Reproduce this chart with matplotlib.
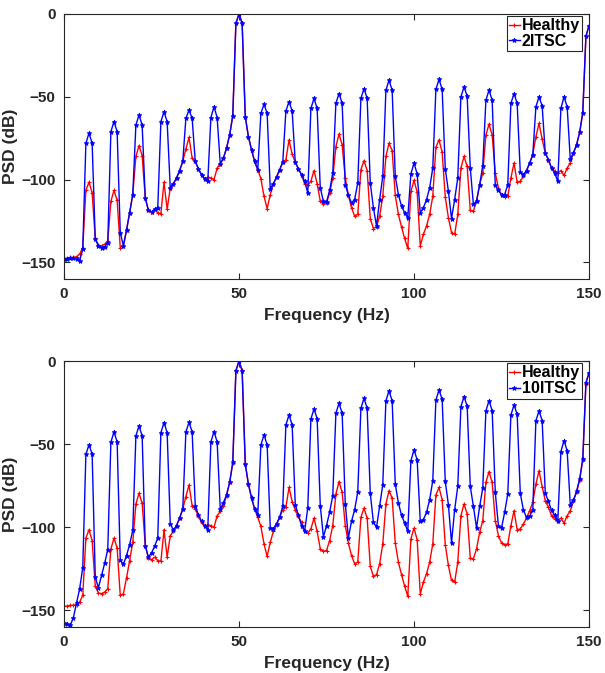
import numpy as np
import matplotlib
matplotlib.use("Agg")
import matplotlib.pyplot as plt

# frequency bins (50/56 Hz spacing, 0..150 Hz)
n_bins = 169
df = 50 / 56

healthy = [
    -147.5, -147.5, -147, -147, -146.5, -145, -141, -106.5, -101.5, -108,
    -135.5, -139.5, -140, -139, -137, -113, -106.5, -112.5, -141, -140,
    -130.5, -120, -109, -86, -79.5, -85.5, -111, -118.5, -119.5, -118,
    -120, -120.5, -101.5, -118, -105, -102.5, -99, -94.5, -89, -81.5,
    -74.5, -87, -89, -93.5, -97, -99.5, -98.5, -99, -100, -93,
    -90.5, -87, -81, -73, -61.5, -5.6, 0, -5.6, -62, -74,
    -82, -89, -94, -99.5, -110, -117.5, -109, -102.5, -98.5, -94,
    -89.5, -88, -76, -84.5, -89.5, -93.5, -97, -102.5, -103.5, -101,
    -94.5, -102.5, -113, -114.5, -114, -108, -99, -80, -72.5, -79,
    -99, -109.5, -117, -122, -121, -94, -88.5, -94.5, -123.5, -129.5,
    -128.5, -122, -110, -86, -78, -82.5, -109.5, -121, -128.5, -135.5,
    -141.5, -107, -100.5, -107.5, -140, -133, -128, -121, -110, -80.5,
    -76, -83.5, -110.5, -123, -132, -133, -121, -93, -86, -92,
    -118.5, -119, -113, -103, -96, -73, -66.5, -73, -96, -105,
    -109.5, -110.5, -110, -99, -90, -101.5, -101, -98, -94.5, -90,
    -85, -74, -66, -75.5, -84, -88, -93, -95, -96, -94.5,
    -97.5, -93, -90, -84, -79, -71.5, -59.5, -13.5, -7,
]

itsc2 = [
    -148, -148, -147.5, -147.5, -148, -149, -142, -78, -72, -78,
    -136, -140, -141, -140.5, -138, -71, -65, -71, -132, -140,
    -130.5, -120, -109, -67, -61, -67, -111, -118.5, -119.5, -118,
    -117, -65, -59, -65, -105, -102.5, -99, -94.5, -89, -63,
    -58, -63, -89, -93.5, -97, -99.5, -101, -62.5, -56, -62.5,
    -90.5, -87, -81, -73, -61.5, -5.6, 0, -5.6, -62, -74,
    -82, -89, -94, -60, -54.5, -60, -105.5, -102.5, -98.5, -94,
    -89.5, -58.5, -53, -58.5, -89.5, -93.5, -97, -101, -108, -57,
    -51, -57, -105, -113, -113.5, -106.5, -96, -54, -48, -54,
    -103, -109.5, -114, -112, -102, -51, -45, -51, -102, -117,
    -128, -112, -98, -46, -40, -46, -98, -109, -116, -120,
    -123, -96.5, -90, -96.5, -120, -117, -112, -105, -93, -45.5,
    -39.5, -45.5, -93.5, -107, -123.5, -112, -99, -50, -44, -49.5,
    -93, -115, -113, -103, -91.5, -52, -46, -52, -103.5, -106.5,
    -109, -109, -103, -54, -48, -54, -95.5, -97, -94.5, -90,
    -85, -56, -50, -55.5, -84, -88, -93, -96, -101, -57,
    -50, -56, -87.5, -84, -79, -71.5, -59.5, -13.5, -7,
]

itsc10 = [
    -157.8, -158.4, -159, -154.4, -145.8, -137, -124.4, -56, -50.4, -56,
    -130, -136.4, -129, -121.8, -113.4, -48.8, -42.6, -48.6, -119.8, -122.4,
    -117, -110.4, -101.8, -45, -39, -45, -111, -118, -115.4, -111.4,
    -106.4, -43, -37, -43, -97.8, -101.8, -99, -94.4, -89, -42.6,
    -36.8, -42.6, -87, -92.4, -96.4, -99, -101.4, -48.6, -42.4, -48.6,
    -89, -85.4, -80.4, -73, -61, -5.8, 0, -5.8, -61.8, -74,
    -82.4, -89, -92.4, -50.4, -44.4, -50.4, -100.4, -100.8, -97.8, -94,
    -87.4, -38.4, -32.4, -38.4, -86.4, -92.8, -99, -102.4, -88.4, -34.8,
    -28.8, -34.6, -87, -105.8, -99, -90.8, -81, -31.4, -25.4, -31.4,
    -85.8, -106.4, -96.4, -89.4, -78.8, -28.4, -22.4, -28.4, -79.4, -97,
    -100, -87.4, -74.4, -24, -17.8, -24, -74, -85.4, -92.8, -97.4,
    -102.4, -60, -53.4, -59.4, -96.4, -95.4, -91, -83.4, -72, -23.4,
    -17.4, -23, -72.4, -86.4, -109.4, -89.4, -75.4, -27.4, -21.4, -27,
    -75.4, -87.4, -100.4, -87.4, -76.4, -30, -23.8, -29.8, -79, -99,
    -100.4, -91, -80, -32.4, -26.4, -32, -79.4, -89.8, -94, -93.4,
    -89.4, -35.8, -30, -35.8, -79.4, -84.4, -89.8, -92.8, -96.4, -54.4,
    -47.8, -54, -86.4, -83.8, -78.4, -70.8, -59, -13, -7,
]

freq = np.arange(n_bins) * df

plt.rcParams['font.family'] = ['Liberation Sans', 'DejaVu Sans']
plt.rcParams['font.weight'] = 'bold'
dark = '#262626'

fig = plt.figure(figsize=(6.05, 6.73), dpi=100)
ax1 = fig.add_axes([0.1058, 0.5854, 0.8678, 0.3938])
ax2 = fig.add_axes([0.1058, 0.0684, 0.8678, 0.3950])

for ax, fault, name in [(ax1, itsc2, '2ITSC'), (ax2, itsc10, '10ITSC')]:
    ax.plot(freq, healthy, '-', color='#ff0000', lw=1, marker='+', ms=3,
            mew=0.8, label='Healthy')
    ax.plot(freq, fault, '-', color='#0000ff', lw=1, marker='*', ms=3.5,
            mew=0.6, label=name)
    ax.set_xlim(0, 150)
    ax.set_ylim(-160, 0)
    ax.set_xticks([0, 50, 100, 150])
    ax.set_yticks([-150, -100, -50, 0])
    ax.tick_params(direction='in', top=True, right=True, length=4,
                   width=0.8, colors=dark, labelsize=11, pad=6)
    for lab in ax.get_xticklabels() + ax.get_yticklabels():
        lab.set_fontweight('bold')
    for s in ax.spines.values():
        s.set_color(dark)
        s.set_linewidth(0.8)
    ax.set_xlabel('Frequency (Hz)', fontsize=12.5, fontweight='bold', color=dark, labelpad=5)
    ax.set_ylabel('PSD (dB)', fontsize=12.5, fontweight='bold', color=dark)
    ax.yaxis.set_label_coords(-0.088, 0.5)
    leg = ax.legend(loc='upper right', bbox_to_anchor=(0.987, 0.993),
                    fontsize=11.5, handlelength=0.7,
                    handletextpad=0.1, borderpad=0.15, labelspacing=0.05,
                    borderaxespad=0, fancybox=False, framealpha=1)
    leg.get_frame().set_edgecolor(dark)
    leg.get_frame().set_linewidth(0.8)
    for t in leg.get_texts():
        t.set_fontweight('bold')
        t.set_color('black')

fig.savefig('out.png', dpi=100)
